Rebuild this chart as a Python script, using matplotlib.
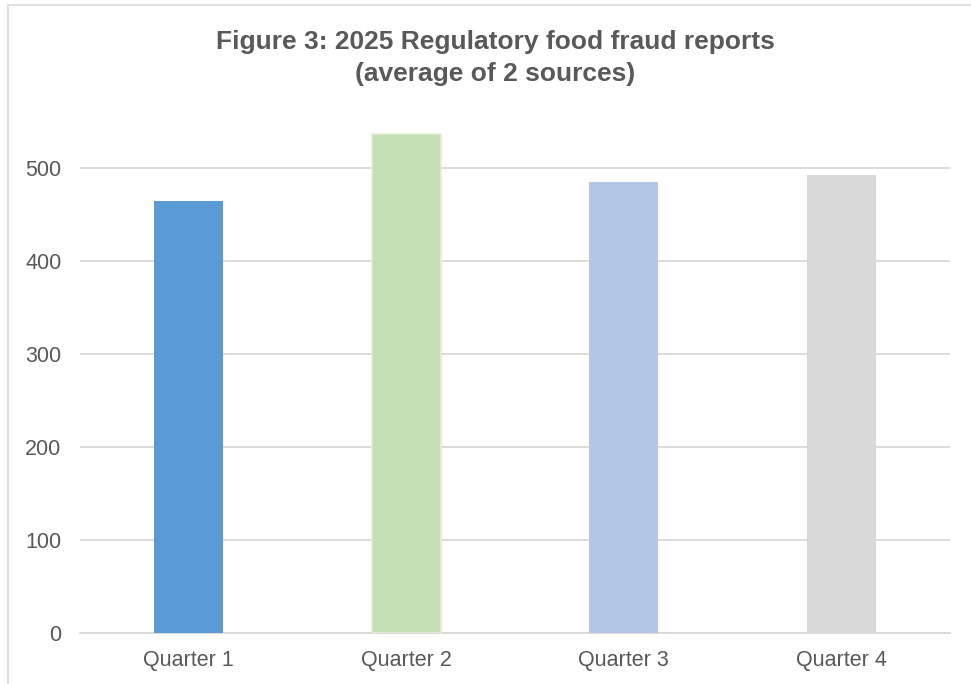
import matplotlib
matplotlib.use("Agg")
import matplotlib.pyplot as plt
from matplotlib.patches import Rectangle

plt.rcParams["font.family"] = ["Liberation Sans", "DejaVu Sans"]

# data
quarters = ["Quarter 1", "Quarter 2", "Quarter 3", "Quarter 4"]
reports = [464.5, 537.0, 485.0, 492.5]
bar_colors = ["#5B9BD5", "#C5E0B4", "#B4C7E7", "#D9D9D9"]
y_ticks = [0, 100, 200, 300, 400, 500]

TEXT = "#595959"
GRID = "#D9D9D9"

W, H = 971, 684
fig = plt.figure(figsize=(W / 100, H / 100), dpi=100)

# chart-area border (only the top and left edges show in the crop)
fig.patches.append(Rectangle((8 / W, -0.1), 1.2, 1 - 5 / H + 0.1, transform=fig.transFigure,
                             fill=False, edgecolor="#D9D9D9", linewidth=1.2))

ax = fig.add_axes([80 / W, 50.7 / H, 870 / W, (633.3 - 74.9) / H])
ax.bar(range(len(quarters)), reports, width=0.317, color=bar_colors, zorder=3)
# Quarter 2 has a faint lighter outline
ax.patches[1].set_edgecolor("#E2EFDA")
ax.patches[1].set_linewidth(1.2)

ax.set_xlim(-0.5, len(quarters) - 0.5)
ax.set_ylim(0, 600)
ax.set_yticks(y_ticks)
ax.set_xticks(range(len(quarters)))
ax.set_xticklabels(quarters)
ax.grid(axis="y", color=GRID, linewidth=1.3, zorder=0)
for side in ["top", "right", "left"]:
    ax.spines[side].set_visible(False)
ax.spines["bottom"].set_color(GRID)
ax.spines["bottom"].set_linewidth(1.3)
ax.tick_params(axis="y", length=0, pad=13.5, labelsize=15.5, labelcolor=TEXT)
ax.tick_params(axis="x", length=0, pad=12, labelsize=15.5, labelcolor=TEXT)

fig.text(495 / W, 1 - 30 / H, "Figure 3: 2025 Regulatory food fraud reports\n(average of 2 sources)",
         ha="center", va="top", fontsize=19, fontweight="bold", color=TEXT, linespacing=1.4)

fig.savefig("out.png", dpi=100, facecolor="white")
